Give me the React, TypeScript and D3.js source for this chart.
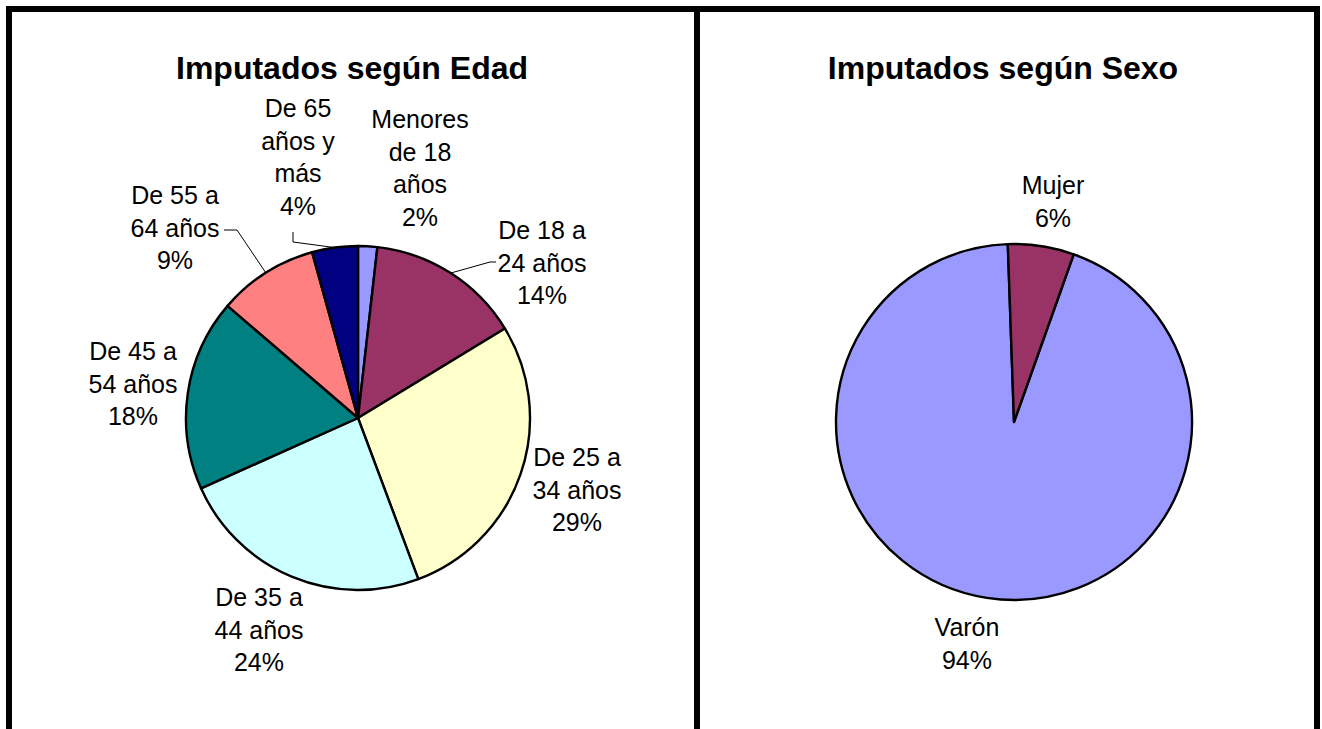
import React from 'react';
import * as d3 from 'd3';

// Imputados según Edad
const ageGroups = [
  ['Menores', 'de 18', 'años'],
  ['De 18 a', '24 años'],
  ['De 25 a', '34 años'],
  ['De 35 a', '44 años'],
  ['De 45 a', '54 años'],
  ['De 55 a', '64 años'],
  ['De 65', 'años y', 'más'],
];
const ageShares = [1.8, 14.5, 28.0, 24.0, 18.0, 9.4, 4.3];
const agePctLabels = ['2%', '14%', '29%', '24%', '18%', '9%', '4%'];
const ageColors = ['#9999FF', '#993366', '#FFFFCC', '#CCFFFF', '#008080', '#FF8080', '#000080'];

// Imputados según Sexo
const sexGroups = [['Varón'], ['Mujer']];
const sexShares = [94, 6];
const sexPctLabels = ['94%', '6%'];
const sexColors = ['#9999FF', '#993366'];

const FONT = 'Arial, "Liberation Sans", sans-serif';
const LINE = 32.5;

// label layout: center x, first baseline y, optional leader elbow [x,y] and end [x,y]
type LabelPos = { x: number; y: number; elbow?: [number, number]; end?: [number, number] };

const ageLabelPos: LabelPos[] = [
  { x: 420, y: 128 },
  { x: 542, y: 239, elbow: [490, 262], end: [496, 262] },
  { x: 577, y: 466 },
  { x: 259, y: 606 },
  { x: 133, y: 360 },
  { x: 175, y: 204, elbow: [237, 230], end: [224, 230] },
  { x: 298, y: 117, elbow: [293, 242], end: [293, 232] },
];

const sexLabelPos: LabelPos[] = [
  { x: 967, y: 636 },
  { x: 1053, y: 194 },
];

type PieProps = {
  cx: number;
  cy: number;
  r: number;
  startDeg: number;
  title: string;
  titleX: number;
  names: string[][];
  shares: number[];
  pcts: string[];
  colors: string[];
  labels: LabelPos[];
};

function Pie(props: PieProps) {
  const { cx, cy, r, startDeg, title, titleX, names, shares, pcts, colors, labels } = props;
  const start = (startDeg * Math.PI) / 180;
  const pie = d3.pie<number>().sort(null).value(d => d).startAngle(start).endAngle(start + 2 * Math.PI);
  const arcs = pie(shares);
  const arc = d3.arc<d3.PieArcDatum<number>>().innerRadius(0).outerRadius(r);

  return (
    <g>
      <text x={titleX} y={79} textAnchor="middle" fontFamily={FONT} fontWeight="bold" fontSize={32}>
        {title}
      </text>
      <g transform={`translate(${cx},${cy})`}>
        {arcs.map((a, i) => (
          <path key={i} d={arc(a) || ''} fill={colors[i]} stroke="#000" strokeWidth={2.4} strokeLinejoin="round" />
        ))}
      </g>
      {arcs.map((a, i) => {
        const lp = labels[i];
        if (!lp.elbow || !lp.end) return null;
        const mid = (a.startAngle + a.endAngle) / 2;
        const px = cx + r * Math.sin(mid);
        const py = cy - r * Math.cos(mid);
        return (
          <polyline
            key={'l' + i}
            points={`${px},${py} ${lp.elbow[0]},${lp.elbow[1]} ${lp.end[0]},${lp.end[1]}`}
            fill="none"
            stroke="#000"
            strokeWidth={1}
          />
        );
      })}
      {arcs.map((a, i) => {
        const lp = labels[i];
        const lines = [...names[i], pcts[i]];
        return (
          <text key={'t' + i} textAnchor="middle" fontFamily={FONT} fontSize={25} fill="#000">
            {lines.map((s, j) => (
              <tspan key={j} x={lp.x} y={lp.y + j * LINE}>
                {s}
              </tspan>
            ))}
          </text>
        );
      })}
    </g>
  );
}

export default function App() {
  const W = 1322;
  const H = 729;
  return (
    <svg
      width={W}
      height={H}
      style={{ position: 'absolute', left: 0, top: 0, display: 'block', background: '#fff' }}
    >
      <rect x={0} y={0} width={W} height={H} fill="#fff" />
      <Pie
        cx={358}
        cy={418}
        r={172}
        startDeg={0}
        title="Imputados según Edad"
        titleX={352}
        names={ageGroups}
        shares={ageShares}
        pcts={agePctLabels}
        colors={ageColors}
        labels={ageLabelPos}
      />
      <Pie
        cx={1014}
        cy={422}
        r={178}
        startDeg={19.6}
        title="Imputados según Sexo"
        titleX={1003}
        names={sexGroups}
        shares={sexShares}
        pcts={sexPctLabels}
        colors={sexColors}
        labels={sexLabelPos}
      />
      {/* panel frames */}
      <line x1={6} y1={9} x2={1320} y2={9} stroke="#000" strokeWidth={6} />
      <line x1={9} y1={6} x2={9} y2={H + 10} stroke="#000" strokeWidth={6} />
      <line x1={697} y1={6} x2={697} y2={H + 10} stroke="#000" strokeWidth={6} />
      <line x1={1317} y1={6} x2={1317} y2={H + 10} stroke="#000" strokeWidth={6} />
    </svg>
  );
}
